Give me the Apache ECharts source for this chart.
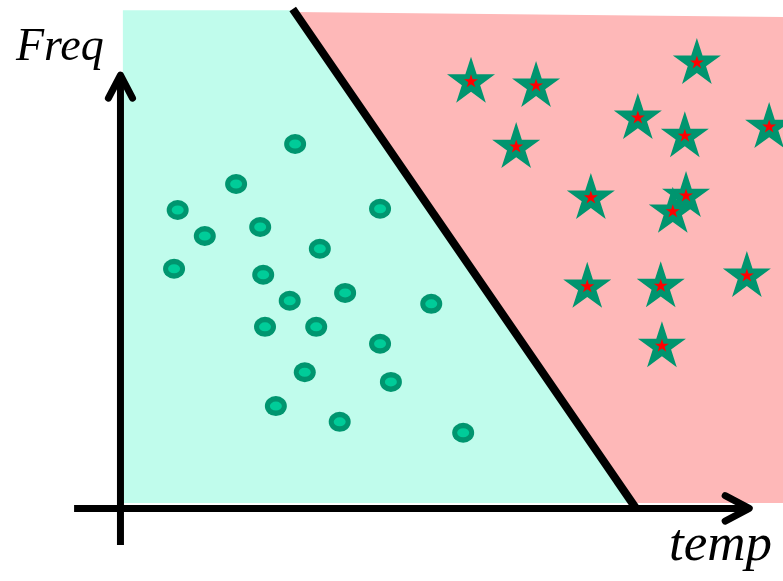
<!DOCTYPE html>
<html>
<head>
<meta charset="utf-8">
<script src="https://cdn.jsdelivr.net/npm/echarts@6/dist/echarts.min.js"></script>
<style>
  html, body { margin: 0; padding: 0; background: #fff; }
  #chart { width: 783px; height: 581px; }
</style>
</head>
<body>
<div id="chart"></div>
<script>
// class A samples (circles), [temp, freq]
const circlePoints = [
  [29.0, 60.2], [19.2, 53.6], [9.5, 49.3], [43.1, 49.5], [14.0, 45.0],
  [23.2, 46.5], [33.1, 42.9], [8.9, 39.6], [23.7, 38.6], [37.3, 35.6],
  [28.1, 34.3], [51.6, 33.8], [24.0, 30.0], [32.5, 30.0], [43.1, 27.2],
  [30.6, 22.5], [44.9, 20.9], [25.8, 16.9], [36.4, 14.3], [56.9, 12.5]
]
// class B samples (stars), [temp, freq]
const starPoints = [
  [58.2, 70.5], [69.0, 69.8], [95.7, 73.6], [65.7, 59.7], [85.9, 64.5],
  [93.7, 61.5], [107.7, 63.0], [78.1, 51.3], [93.9, 51.6], [91.7, 49.0],
  [77.5, 36.6], [89.7, 36.7], [104.0, 38.4], [89.9, 26.8]
]
// decision boundary
const boundary = [[28.6, 82.5], [85.6, 0]]
// shaded decision regions
const regionA = [[0.4, 82.3], [28.6, 82.3], [85.6, 0.9], [0.4, 0.9]]
const regionB = [[28.6, 82.0], [110, 81.2], [110, 0.9], [85.6, 0.9]]

const STAR = 'path://M100 0 L122.45 69.1 L195.1 69.1 L136.3 111.8 L158.8 180.9 L100 138.2 L41.2 180.9 L63.7 111.8 L4.9 69.1 L77.55 69.1 Z'

function regionSeries(points, color) {
  return {
    type: 'custom',
    silent: true,
    z: 1,
    data: [0],
    renderItem: function (params, api) {
      return {
        type: 'polygon',
        shape: { points: points.map(function (p) { return api.coord(p) }) },
        style: { fill: color }
      }
    }
  }
}

function lineSeries(data, width, cap, z) {
  return {
    type: 'line',
    silent: true,
    showSymbol: false,
    z: z,
    data: data,
    lineStyle: { color: '#000', width: width, cap: cap, join: 'round' }
  }
}

const chart = echarts.init(document.getElementById('chart'))
chart.setOption({
  animation: false,
  grid: { left: 0, right: 0, top: 0, bottom: 0 },
  xAxis: { type: 'value', min: -20, max: 110, show: false },
  yAxis: { type: 'value', min: -12, max: 84, show: false },
  graphic: [
    {
      type: 'text', left: 16, top: 25, z: 10,
      style: {
        text: 'Freq', fill: '#000',
        fontFamily: 'Liberation Serif', fontStyle: 'italic', fontSize: 46
      }
    },
    {
      type: 'text', left: 669, top: 520, z: 10,
      style: {
        text: 'temp', fill: '#000',
        fontFamily: 'Liberation Serif', fontStyle: 'italic', fontSize: 53
      }
    }
  ],
  series: [
    regionSeries(regionA, '#c0fcec'),
    regionSeries(regionB, '#feb8b8'),
    lineSeries(boundary, 8, 'butt', 3),
    // axes with open arrow heads
    lineSeries([[-7.7, 0], [104.2, 0]], 7, 'butt', 4),
    lineSeries([[100.4, 2.1], [104.4, 0], [100.4, -2.1]], 7, 'round', 4),
    lineSeries([[0, -6.05], [0, 71.4]], 7, 'butt', 4),
    lineSeries([[-2.0, 67.8], [0, 71.6], [2.0, 67.8]], 7, 'round', 4),
    {
      type: 'scatter', silent: true, z: 5,
      symbol: 'circle', symbolSize: [22, 20],
      itemStyle: { color: '#00956f', opacity: 1 },
      data: circlePoints
    },
    {
      type: 'scatter', silent: true, z: 6,
      symbol: 'circle', symbolSize: [12, 9],
      itemStyle: { color: '#00cc99', opacity: 1 },
      data: circlePoints
    },
    {
      type: 'scatter', silent: true, z: 5,
      symbol: STAR, symbolSize: [48, 46], symbolOffset: [0, -2],
      itemStyle: { color: '#00956f', opacity: 1 },
      data: starPoints
    },
    {
      type: 'scatter', silent: true, z: 6,
      symbol: STAR, symbolSize: [14, 13], symbolOffset: [0, -1],
      itemStyle: { color: '#ff0000', opacity: 1 },
      data: starPoints
    }
  ]
})
</script>
</body>
</html>
